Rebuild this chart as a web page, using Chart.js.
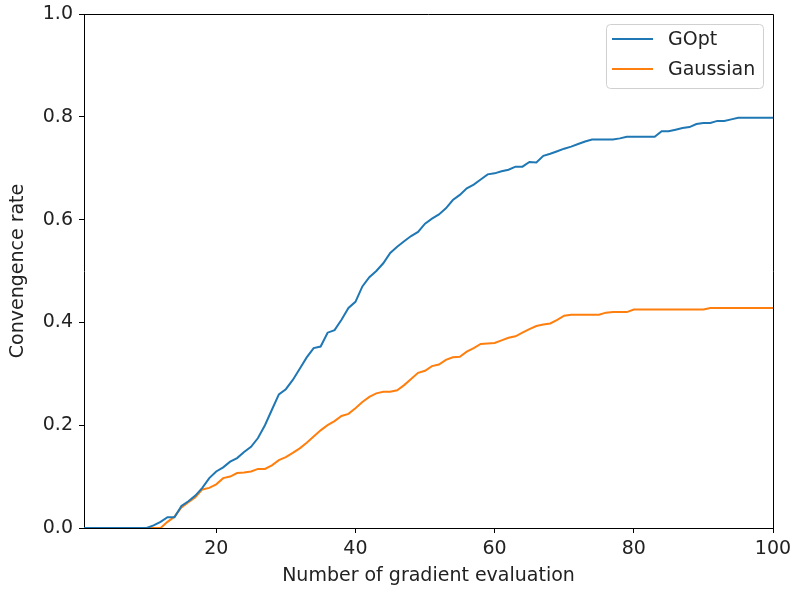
<!DOCTYPE html>
<html>
<head>
<meta charset="utf-8">
<script src="https://cdn.jsdelivr.net/npm/chart.js@4.4.1/dist/chart.umd.min.js"></script>
<style>
  html, body { margin: 0; padding: 0; background: #fff; }
  #wrap { position: relative; width: 793px; height: 594px; }
</style>
</head>
<body>
<div id="wrap"><canvas id="chart"></canvas></div>
<script>
// Convergence rate vs number of gradient evaluations (GOpt vs Gaussian)

const evals = [];
for (let i = 1; i <= 100; i++) evals.push(i);

const goptRate = [
  0, 0, 0, 0, 0, 0, 0, 0, 0, 0,
  0.005, 0.012, 0.021, 0.021, 0.043, 0.052, 0.063, 0.078, 0.097, 0.11,
  0.118, 0.129, 0.136, 0.148, 0.158, 0.175, 0.2, 0.23, 0.26, 0.27,
  0.288, 0.31, 0.332, 0.35, 0.353, 0.38, 0.385, 0.405, 0.428, 0.44,
  0.47, 0.488, 0.5, 0.515, 0.535, 0.547, 0.558, 0.568, 0.576, 0.592,
  0.602, 0.61, 0.622, 0.638, 0.648, 0.661, 0.668, 0.678, 0.688, 0.69,
  0.694, 0.697, 0.703, 0.703, 0.712, 0.711, 0.724, 0.728, 0.733, 0.738,
  0.742, 0.747, 0.752, 0.756, 0.756, 0.756, 0.756, 0.758, 0.761, 0.761,
  0.761, 0.761, 0.761, 0.772, 0.772, 0.775, 0.778, 0.78, 0.786, 0.788,
  0.788, 0.792, 0.792, 0.795, 0.798, 0.798, 0.798, 0.798, 0.798, 0.798
];

const gaussianRate = [
  0, 0, 0, 0, 0, 0, 0, 0, 0, 0,
  0, 0, 0.012, 0.022, 0.04, 0.05, 0.06, 0.075, 0.078, 0.085,
  0.097, 0.1, 0.107, 0.108, 0.11, 0.115, 0.115, 0.122, 0.132, 0.138,
  0.146, 0.155, 0.166, 0.178, 0.19, 0.2, 0.208, 0.218, 0.222, 0.233,
  0.245, 0.255, 0.262, 0.265, 0.265, 0.268, 0.278, 0.29, 0.302, 0.306,
  0.315, 0.318, 0.327, 0.332, 0.333, 0.343, 0.35, 0.358, 0.359, 0.36,
  0.365, 0.37, 0.373, 0.38, 0.387, 0.393, 0.396, 0.398, 0.405, 0.413,
  0.415, 0.415, 0.415, 0.415, 0.415, 0.419, 0.42, 0.42, 0.42, 0.425,
  0.425, 0.425, 0.425, 0.425, 0.425, 0.425, 0.425, 0.425, 0.425, 0.425,
  0.428, 0.428, 0.428, 0.428, 0.428, 0.428, 0.428, 0.428, 0.428, 0.428
];

const xTicks = [20, 40, 60, 80, 100];
const yTicks = [0, 0.2, 0.4, 0.6, 0.8, 1.0];

const FONT = 'DejaVu Sans';
const SIZE = 19;

const toPoints = (ys) => ys.map((y, i) => ({ x: evals[i], y: y }));

// top and right spines, like matplotlib's box
const frame = {
  id: 'frame',
  afterDatasetsDraw(chart) {
    const a = chart.chartArea, c = chart.ctx;
    c.save();
    c.strokeStyle = '#000';
    c.lineWidth = 1;
    c.beginPath();
    c.moveTo(a.left, a.top + 0.5);
    c.lineTo(a.right + 0.5, a.top + 0.5);
    c.lineTo(a.right + 0.5, a.bottom);
    c.stroke();
    c.restore();
  }
};

// legend box in the upper right corner of the plot
const boxLegend = {
  id: 'boxLegend',
  afterDraw(chart) {
    const a = chart.chartArea, c = chart.ctx;
    const w = 157, h = 64;
    const x = a.right - 10 - w, y = a.top + 10;
    c.save();
    c.beginPath();
    c.roundRect(x + 0.5, y + 0.5, w, h, 4);
    c.fillStyle = 'rgba(255,255,255,0.8)';
    c.fill();
    c.strokeStyle = '#d0d0d0';
    c.lineWidth = 1;
    c.stroke();
    c.font = SIZE + 'px ' + FONT;
    c.textBaseline = 'middle';
    c.textAlign = 'left';
    chart.data.datasets.forEach((ds, i) => {
      const cy = y + 15 + i * 30;
      c.strokeStyle = ds.borderColor;
      c.lineWidth = 2;
      c.beginPath();
      c.moveTo(x + 6, cy);
      c.lineTo(x + 47, cy);
      c.stroke();
      c.fillStyle = '#222';
      c.fillText(ds.label, x + 62, cy + 1);
    });
    c.restore();
  }
};

new Chart(document.getElementById('chart'), {
  type: 'line',
  data: {
    datasets: [
      {
        label: 'GOpt',
        data: toPoints(goptRate),
        borderColor: '#1f77b4',
        borderWidth: 2,
        pointRadius: 0,
        tension: 0,
        fill: false
      },
      {
        label: 'Gaussian',
        data: toPoints(gaussianRate),
        borderColor: '#ff7f0e',
        borderWidth: 2,
        pointRadius: 0,
        tension: 0,
        fill: false
      }
    ]
  },
  options: {
    responsive: true,
    maintainAspectRatio: false,
    animation: false,
    layout: { padding: { left: 0, top: 14, right: 20, bottom: 0 } },
    plugins: {
      legend: { display: false },
      tooltip: { enabled: false }
    },
    scales: {
      x: {
        type: 'linear',
        min: 1,
        max: 100,
        afterBuildTicks: (s) => { s.ticks = xTicks.map(v => ({ value: v })); },
        afterFit: (s) => {
          s.height = 66;
          s.paddingLeft = 0;
          s.paddingRight = 0;
        },
        grid: { drawOnChartArea: false, color: '#000', tickLength: 5 },
        border: { color: '#000', width: 1 },
        ticks: { color: '#222', font: { family: FONT, size: SIZE }, padding: 5, maxRotation: 0 },
        title: {
          display: true,
          text: 'Number of gradient evaluation',
          color: '#222',
          font: { family: FONT, size: SIZE },
          padding: { top: 2, bottom: 7 }
        }
      },
      y: {
        min: 0,
        max: 1,
        afterBuildTicks: (s) => { s.ticks = yTicks.map(v => ({ value: v })); },
        afterFit: (s) => {
          s.width = 84;
          s.paddingTop = 0;
          s.paddingBottom = 0;
        },
        grid: { drawOnChartArea: false, color: '#000', tickLength: 5 },
        border: { color: '#000', width: 1 },
        ticks: {
          color: '#222',
          font: { family: FONT, size: SIZE },
          padding: 6,
          callback: (v) => v.toFixed(1)
        },
        title: {
          display: true,
          text: 'Convengence rate',
          color: '#222',
          font: { family: FONT, size: SIZE },
          padding: { top: 7, bottom: 4 }
        }
      }
    }
  },
  plugins: [frame, boxLegend]
});
</script>
</body>
</html>
